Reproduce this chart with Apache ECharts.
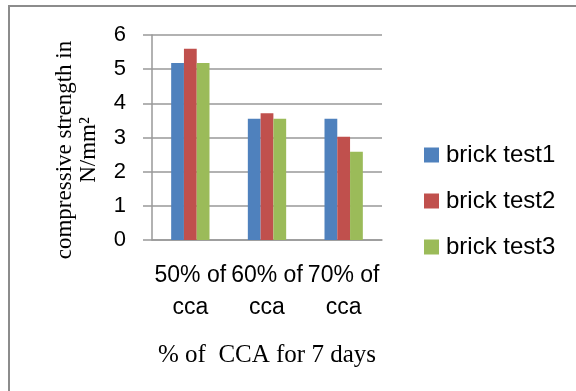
<!DOCTYPE html>
<html>
<head>
<meta charset="utf-8">
<script src="https://cdn.jsdelivr.net/npm/echarts@6/dist/echarts.min.js"></script>
<style>html,body{margin:0;padding:0;background:#fff}#c{width:576px;height:391px}</style>
</head>
<body>
<div id="c"></div>
<script>
const categories = ['50% of\ncca', '60% of\ncca', '70% of\ncca'];
const seriesNames = ['brick test1', 'brick test2', 'brick test3'];
const test1 = [5.18, 3.55, 3.55];
const test2 = [5.6, 3.71, 3.02];
const test3 = [5.18, 3.55, 2.58];
const yTicks = [0, 1, 2, 3, 4, 5, 6];
const xTitle = '% of  CCA for 7 days';
const yTitle = 'compressive strength in\nN/mm²';
const colors = ['#4F81BD', '#C0504D', '#9BBB59'];

const chart = echarts.init(document.getElementById('c'), null, {renderer: 'canvas'});
const values = [test1, test2, test3];
chart.setOption({
  animation: false,
  backgroundColor: '#fff',
  grid: {left: 152, right: 194, top: 35, bottom: 151},
  xAxis: {
    type: 'category',
    data: categories,
    name: xTitle,
    nameLocation: 'middle',
    nameGap: 103,
    nameTextStyle: {fontFamily: 'Liberation Serif', fontSize: 25, color: '#000'},
    axisLine: {show: true, lineStyle: {color: '#999', width: 1.5}},
    axisTick: {show: false},
    axisLabel: {interval: 0, hideOverlap: false, margin: 20, fontFamily: 'Liberation Sans', fontSize: 23, lineHeight: 32, color: '#000', align: 'center'}
  },
  yAxis: {
    type: 'value',
    min: yTicks[0],
    max: yTicks[yTicks.length - 1],
    interval: 1,
    axisLine: {show: true, lineStyle: {color: '#999', width: 1.5}},
    axisTick: {show: true, length: 9, lineStyle: {color: '#999', width: 1.5}},
    splitLine: {show: true, lineStyle: {color: '#999', width: 1.5}},
    axisLabel: {margin: 26, fontFamily: 'Liberation Sans', fontSize: 22, color: '#000'}
  },
  legend: {
    orient: 'vertical',
    left: 424,
    top: 143,
    padding: 0,
    itemWidth: 15,
    itemHeight: 15,
    itemGap: 22,
    icon: 'rect',
    textStyle: {fontFamily: 'Liberation Sans', fontSize: 24, lineHeight: 24, color: '#000', padding: [0, 0, 0, 2]},
    data: seriesNames
  },
  graphic: [
    {type: 'rect', shape: {x: 9, y: 6, width: 600, height: 420}, style: {fill: 'none', stroke: '#8c8c8c', lineWidth: 2}, silent: true},
    {type: 'text', x: 77, y: 150, rotation: Math.PI / 2,
     style: {text: yTitle, fontFamily: 'Liberation Serif', fontSize: 23, lineHeight: 24, fill: '#000', align: 'center', verticalAlign: 'middle'}}
  ],
  series: seriesNames.map((n, i) => ({
    name: n,
    type: 'bar',
    data: values[i],
    barGap: '0%',
    barCategoryGap: '50%',
    itemStyle: {color: colors[i]}
  }))
});
</script>
</body>
</html>
